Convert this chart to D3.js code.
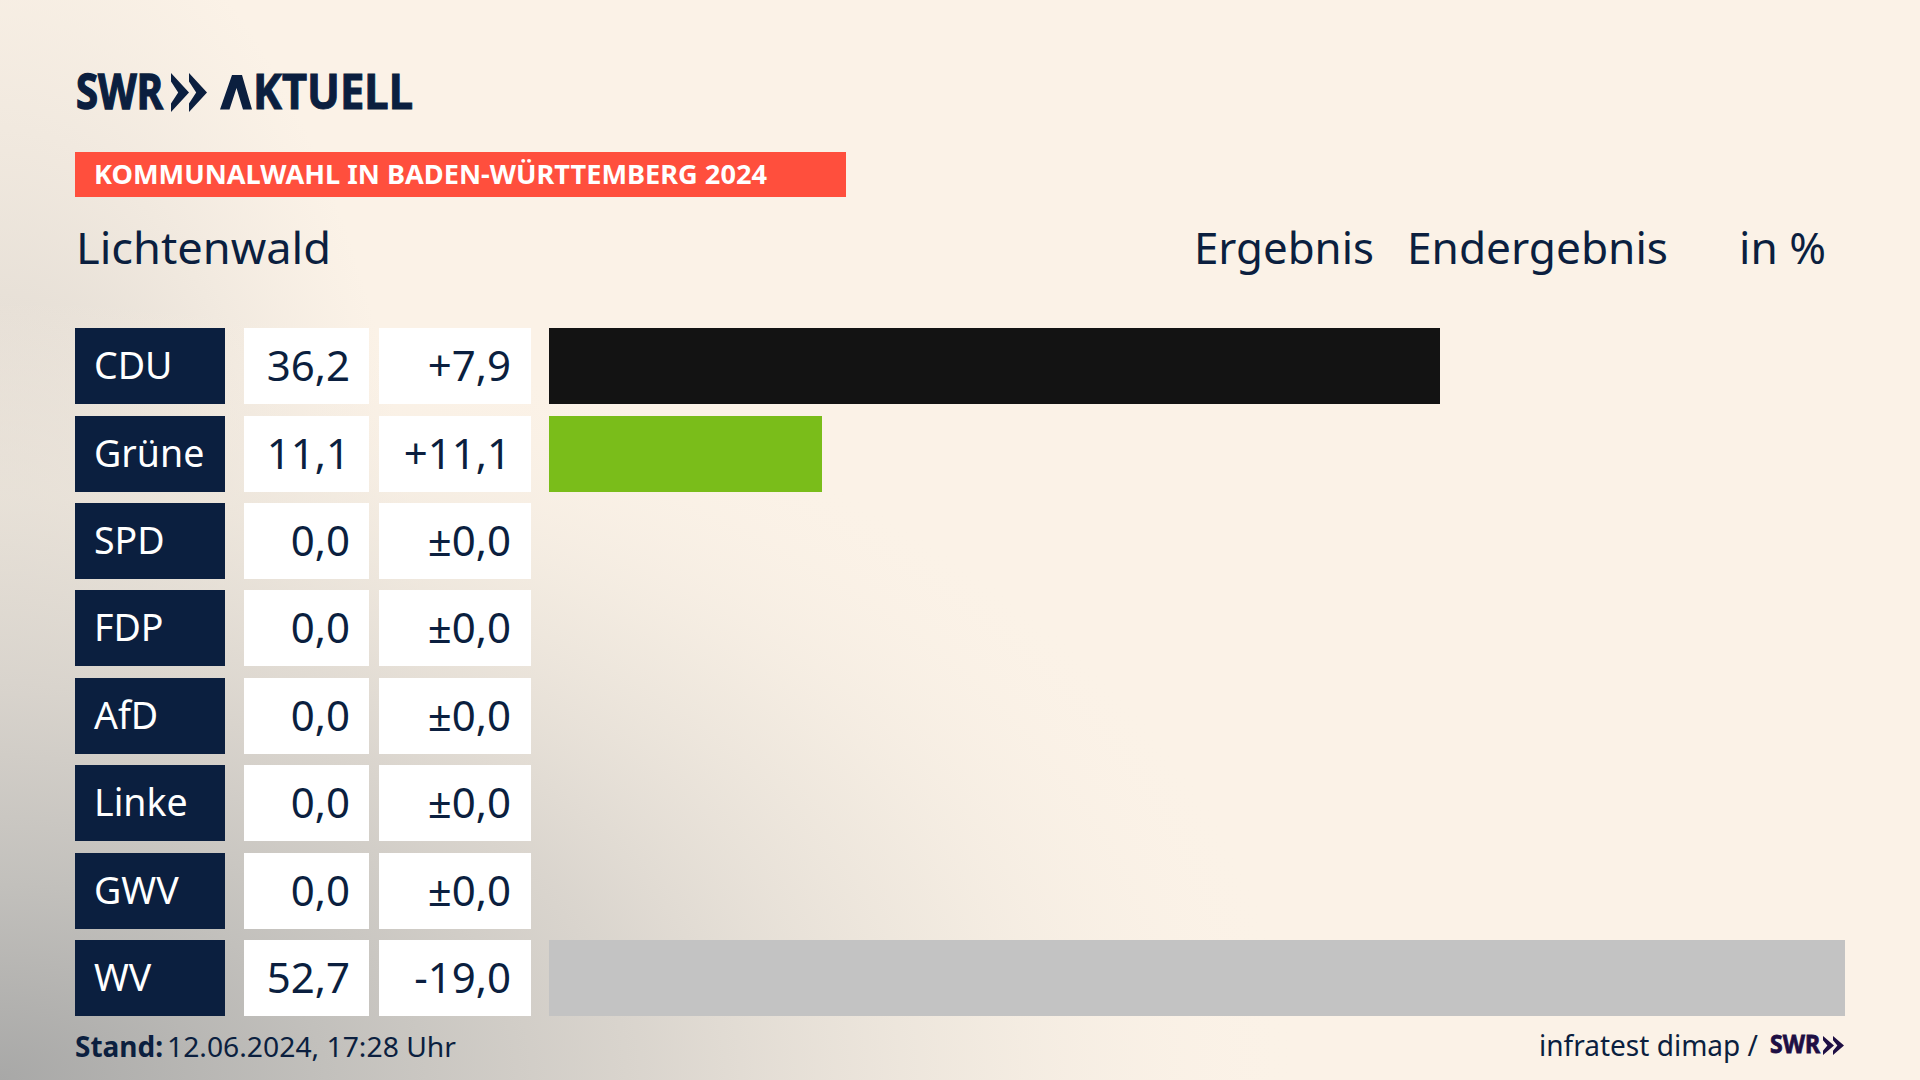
<!DOCTYPE html>
<html lang="de"><head><meta charset="utf-8">
<script src="https://cdn.jsdelivr.net/npm/d3@7"></script>
<style>html,body{margin:0;padding:0;background:#FBF2E7;overflow:hidden}svg{display:block}text{font-family:"Noto Sans",sans-serif}</style>
</head><body><div id="c"></div>
<script>
const parties = ["CDU","Grüne","SPD","FDP","AfD","Linke","GWV","WV"];
const results = [36.2,11.1,0,0,0,0,0,52.7];
const changes = [7.9,11.1,0,0,0,0,0,-19.0];
const barColors = ["#131313","#7ABD1A","#888","#888","#888","#888","#888","#C3C3C3"];
const NAVY="#0B1F3F";
const fmt = v => v.toFixed(1).replace(".",",");
const fmtD = v => (v>0?"+":v<0?"-":"±")+fmt(Math.abs(v));

const svg=d3.select("#c").append("svg").attr("width",1920).attr("height",1080);
const defs=svg.append("defs");
function radial(id,cx,cy,rx,ry,stops){const g=defs.append("radialGradient").attr("id",id).attr("gradientUnits","userSpaceOnUse")
 .attr("cx",0).attr("cy",0).attr("r",1).attr("gradientTransform",`translate(${cx},${cy}) scale(${rx},${ry})`);
 stops.forEach(s=>g.append("stop").attr("offset",s[0]).attr("stop-color",s[1]).attr("stop-opacity",s[2]));}
radial("bg1",0,1080,1300,780,[[0,"#A8A8A7",1],[.25,"#C2C0BC",1],[.5,"#D9D4CD",.95],[.75,"#EDE6DC",.7],[1,"#FBF2E7",0]]);
radial("bg2",0,760,430,900,[[0,"#B4B2AF",.75],[.5,"#C9C5BF",.4],[1,"#DDD7CF",0]]);
svg.append("rect").attr("width",1920).attr("height",1080).attr("fill","#FBF2E7");
svg.append("rect").attr("width",1920).attr("height",1080).attr("fill","url(#bg2)");
svg.append("rect").attr("width",1920).attr("height",1080).attr("fill","url(#bg1)");

// scales
const y=d3.scaleBand().domain(parties).range([328,1016]).paddingInner(0.1307);
const x=d3.scaleLinear().domain([0,52.7]).range([549,1845]);
const rows=svg.selectAll("g.row").data(parties.map((p,i)=>({p,r:results[i],c:changes[i],col:barColors[i]}))).join("g").attr("class","row")
 .attr("transform",d=>`translate(0,${Math.round(y(d.p)+.1)})`);
const h=Math.round(y.bandwidth());
rows.append("rect").attr("x",75).attr("width",150).attr("height",h).attr("fill",NAVY);
rows.append("rect").attr("x",244).attr("width",125).attr("height",h).attr("fill","#fff");
rows.append("rect").attr("x",379).attr("width",152).attr("height",h).attr("fill","#fff");
rows.filter(d=>d.r>0).append("rect").attr("x",x(0)).attr("width",d=>Math.ceil(x(d.r)-x(0))).attr("height",h).attr("fill",d=>d.col);
rows.append("text").attr("x",94).attr("y",h/2+13).attr("font-size",37.5).attr("fill","#fff").text(d=>d.p);
rows.append("text").attr("x",350).attr("y",h/2+15).attr("text-anchor","end").attr("font-size",42).attr("fill",NAVY).text(d=>fmt(d.r));
rows.append("text").attr("x",511).attr("y",h/2+15).attr("text-anchor","end").attr("font-size",42).attr("fill",NAVY).text(d=>fmtD(d.c));

// header
function t(s,xx,yy,size,opt={}){const e=svg.append("text").attr("x",xx).attr("y",yy).attr("font-size",size).attr("fill",opt.fill||NAVY).text(s);
 if(opt.w)e.attr("textLength",opt.w).attr("lengthAdjust","spacingAndGlyphs");
 if(opt.weight)e.attr("font-weight",opt.weight);
 if(opt.stroke)e.attr("stroke",opt.fill||NAVY).attr("stroke-width",opt.stroke);
 return e;}
// chevron: arm width w, height hh, notched
function chev(xx,yy,w,hh,gap,col){[0,1].forEach(i=>{const ox=xx+i*gap;
 svg.append("path").attr("d",`M${ox},${yy}L${ox+w},${yy+hh/2}L${ox},${yy+hh}L${ox},${yy+hh*.78}L${ox+w*.4},${yy+hh/2}L${ox},${yy+hh*.22}Z`).attr("fill",col);});}
t("SWR",76,109,48,{weight:700,w:87,stroke:1.4});
chev(171,73,18,39,18,NAVY);
// the brand writes its A without a crossbar: the letter stays as text, the mark is drawn over it
const ak=svg.append("text").attr("y",109).attr("font-size",48).attr("font-weight",700).attr("fill",NAVY).attr("stroke",NAVY).attr("stroke-width",1);
ak.append("tspan").attr("x",220).attr("fill-opacity",0).attr("stroke-opacity",0).text("A");
ak.append("tspan").attr("x",253).attr("textLength",160).attr("lengthAdjust","spacingAndGlyphs").text("KTUELL");
svg.append("path").attr("d","M232,75L242,75L252,109.5L243,109.5L236.5,88L229.5,109.5L220,109.5Z").attr("fill",NAVY);

svg.append("rect").attr("x",75).attr("y",152).attr("width",771).attr("height",45).attr("fill","#FF4F3D");
t("KOMMUNALWAHL IN BADEN-WÜRTTEMBERG 2024",94,184,27,{weight:700,fill:"#fff",w:673});
t("Lichtenwald",76,264,44,{w:255});
t("Ergebnis",1194,264,44,{w:180});
t("Endergebnis",1407,264,44,{w:261});
t("in %",1739,264,44,{w:87});
t("Stand:",75,1057,28,{weight:700,w:88});
t("12.06.2024, 17:28 Uhr",167,1057,28,{w:289});
t("infratest dimap /",1539,1056,29,{w:219});
t("SWR",1770,1053,25,{weight:700,fill:"#1E0F44",w:50,stroke:.8});
chev(1823,1036,11,19,10,"#1E0F44");
</script></body></html>
